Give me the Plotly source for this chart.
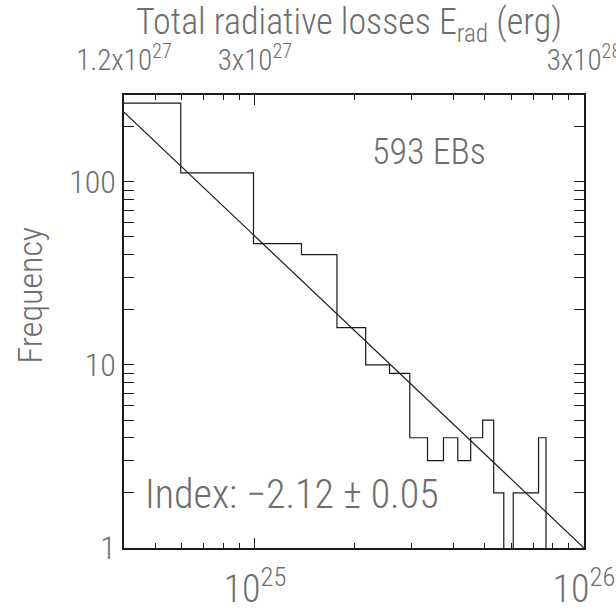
import math
import plotly.graph_objects as go

# ---------------- data ----------------
# histogram bin centres (units of 1e24 erg, bottom axis) and counts
bin_centers_e24 = [4.0, 7.9, 11.9, 15.8, 19.7, 23.7, 27.6, 31.5, 35.4, 39.4,
                   43.3, 47.2, 51.2, 55.1, 59.0, 62.9, 66.9, 70.8, 74.7, 78.6]
counts = [269, 112, 46, 40, 16, 10, 9, 4, 3, 4,
          3, 4, 5, 2, 0, 2, 2, 2, 4, 0]

# power-law fit line end points
fit_energy = [4.0e24, 1.0e26]
fit_freq = [240, 1]

# axis tick labels
bottom_tickvals = [1e25, 1e26]
bottom_ticktext = ["10<sup>25</sup>", "10<sup>26</sup>"]
top_tickvals = [1.2e27, 3e27, 3e28]
top_ticktext = ["1.2x10<sup>27</sup>", "3x10<sup>27</sup>", "3x10<sup>28</sup>"]
y_tickvals = [1, 10, 100]
y_ticktext = ["1", "10", "100"]

x_range = [4.0e24, 1.0e26]
top_range = [1.2e27, 3.0e28]
y_range = [1, 298]

n_events_text = "593 EBs"
index_text = "Index: \u22122.12 \u00b1 0.05"
title_text = "Total radiative losses E<sub>rad</sub> (erg)"
ytitle_text = "Frequency"

# ---------------- build step outline ----------------
centers = [c * 1e24 for c in bin_centers_e24]
edges = [centers[0] - (centers[1] - centers[0]) / 2]
for a, b in zip(centers[:-1], centers[1:]):
    edges.append((a + b) / 2)
step_x = edges + [centers[-1] + (centers[-1] - centers[-2]) / 2]
plot_counts = [c if c > 0 else 0.01 for c in counts]
step_y = plot_counts + [plot_counts[-1]]

# minor tick positions (2..9 times each decade)
x_minor = [float(m) * 10.0 ** d for d in (24, 25) for m in range(2, 10)]
y_minor = [float(m) * 10.0 ** d for d in (0, 1, 2) for m in range(2, 10)]

FONT = "Roboto Condensed, Liberation Sans Narrow, Roboto, sans-serif"
TXT = "#6e6e6e"
LINE = "#1a1a1a"
W = 300
EPS = 1e-6  # tiny padding so edge tick labels are kept

fig = go.Figure()
fig.add_trace(go.Scatter(x=step_x, y=step_y, mode="lines",
                         line=dict(shape="hv", color=LINE, width=1.2),
                         hoverinfo="skip", showlegend=False))
fig.add_trace(go.Scatter(x=fit_energy, y=fit_freq, mode="lines",
                         line=dict(color=LINE, width=1.2),
                         hoverinfo="skip", showlegend=False))
# dummy trace so the top axis is drawn
fig.add_trace(go.Scatter(x=top_range, y=[None, None], xaxis="x2", yaxis="y",
                         mode="lines", showlegend=False, hoverinfo="skip"))

fig.update_layout(
    width=616, height=611,
    margin=dict(l=124, r=32, t=95, b=63),
    paper_bgcolor="white", plot_bgcolor="white",
    font=dict(family=FONT, color=TXT, size=30, weight=W),
    xaxis=dict(type="log", range=[math.log10(x_range[0]) - EPS, math.log10(x_range[1]) + EPS],
               automargin=False, ticklabeloverflow="allow",
               showline=True, linecolor=LINE, linewidth=1.5, mirror="allticks",
               ticks="inside", ticklen=10, tickwidth=1.2, tickcolor=LINE,
               tickmode="array", tickvals=bottom_tickvals, ticktext=bottom_ticktext,
               minor=dict(ticks="inside", ticklen=5, tickwidth=1.2, tickcolor=LINE,
                          tickmode="array", tickvals=x_minor, showgrid=False),
               showgrid=False, zeroline=False, ticklabelstandoff=7,
               tickfont=dict(size=38, color=TXT, family=FONT, weight=W)),
    xaxis2=dict(type="log",
                range=[math.log10(top_range[0]) - EPS, math.log10(top_range[1]) + EPS],
                automargin=False, ticklabeloverflow="allow",
                overlaying="x", side="top", anchor="y",
                showline=False, ticks="", showgrid=False, zeroline=False,
                tickmode="array", tickvals=top_tickvals, ticktext=top_ticktext,
                ticklabelstandoff=18,
                tickfont=dict(size=29, color=TXT, family=FONT, weight=W)),
    yaxis=dict(type="log", range=[math.log10(v) for v in y_range],
               automargin=False,
               showline=True, linecolor=LINE, linewidth=1.5, mirror="allticks",
               ticks="inside", ticklen=10, tickwidth=1.2, tickcolor=LINE,
               tickmode="array", tickvals=y_tickvals, ticktext=y_ticktext,
               minor=dict(ticks="inside", ticklen=5, tickwidth=1.2, tickcolor=LINE,
                          tickmode="array", tickvals=y_minor, showgrid=False),
               showgrid=False, zeroline=False,
               tickfont=dict(size=32, color=TXT, family=FONT, weight=W)),
    annotations=[
        dict(text=n_events_text, xref="paper", yref="paper", x=0.663, y=0.874,
             xanchor="center", yanchor="middle", showarrow=False,
             font=dict(size=36, color=TXT, family=FONT, weight=W)),
        dict(text=index_text, xref="paper", yref="paper", x=0.041, y=0.117,
             xanchor="left", yanchor="middle", showarrow=False,
             font=dict(size=40, color=TXT, family=FONT, weight=W)),
        dict(text=title_text, xref="paper", yref="paper", x=0.489, y=1.155,
             xanchor="center", yanchor="middle", showarrow=False,
             font=dict(size=36, color=TXT, family=FONT, weight=W)),
        dict(text=ytitle_text, xref="paper", yref="paper", x=-0.204, y=0.558,
             xanchor="center", yanchor="middle", textangle=-90, showarrow=False,
             font=dict(size=34, color=TXT, family=FONT, weight=W)),
    ],
)

fig.write_html(
    "out.html",
    config={"displayModeBar": False},
    post_script="document.body.style.margin='0';document.body.style.overflow='hidden';",
)
